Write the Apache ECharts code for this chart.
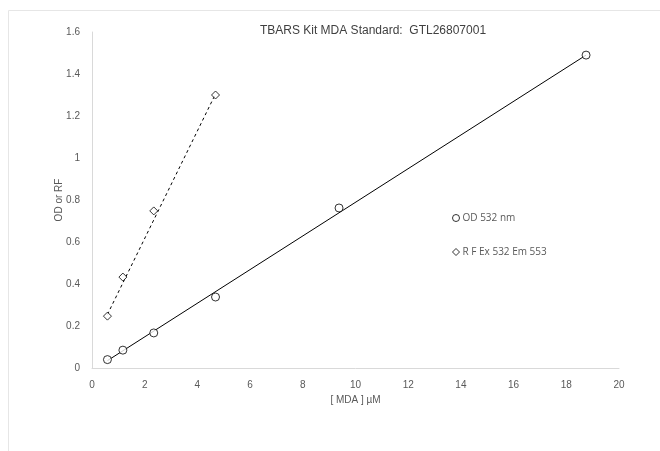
<!DOCTYPE html>
<html><head><meta charset="utf-8">
<script src="https://cdn.jsdelivr.net/npm/echarts@6/dist/echarts.min.js"></script>
<style>html,body{margin:0;padding:0;background:#fff}#c{width:660px;height:451px}</style>
</head><body><div id="c"></div>
<script>
const concMDA = [0.586, 1.172, 2.344, 4.6875, 9.375, 18.75];
const odValues = [0.04, 0.085, 0.167, 0.338, 0.762, 1.49];
const rfConc = [0.586, 1.172, 2.344, 4.6875];
const rfValues = [0.247, 0.433, 0.748, 1.30];
const odTrend = [[0.586, 0.035], [18.75, 1.49]];
const rfTrend = [[0.586, 0.255], [4.6875, 1.305]];
const xTicks = [0, 2, 4, 6, 8, 10, 12, 14, 16, 18, 20];
const yTicks = [0, 0.2, 0.4, 0.6, 0.8, 1, 1.2, 1.4, 1.6];

const chart = echarts.init(document.getElementById('c'));
const font = '"Liberation Sans", Arial, sans-serif';
const zip = (xs, ys) => xs.map((x, i) => [x, ys[i]]);
chart.setOption({
  animation: false,
  backgroundColor: '#fff',
  graphic: [{type: 'rect', shape: {x: 8.5, y: 10.5, width: 700, height: 500}, style: {fill: 'none', stroke: '#e6e6e6', lineWidth: 1}, silent: true}],
  title: {text: 'TBARS Kit MDA Standard:  GTL26807001', left: 368, top: 20, textAlign: 'center',
    textStyle: {fontFamily: font, fontSize: 12, fontWeight: 'normal', color: '#404040'}},
  grid: {left: 92, right: 41, top: 32, bottom: 83},
  legend: {orient: 'vertical', left: 447, top: 208, itemGap: 24, itemWidth: 7, itemHeight: 7,
    itemStyle: {borderWidth: 1},
    textStyle: {fontFamily: '"Open Sans", sans-serif', fontSize: 10, color: '#595959', padding: [0,0,0,-2]},
    data: [{name: 'OD 532 nm', icon: 'circle'}, {name: 'R F Ex 532 Em 553', icon: 'diamond'}]},
  xAxis: {type: 'value', min: xTicks[0], max: xTicks[xTicks.length-1], interval: 2,
    name: '[ MDA ] µM', nameLocation: 'middle', nameGap: 27,
    nameTextStyle: {fontFamily: font, fontSize: 10, color: '#595959'},
    axisLine: {show: true, lineStyle: {color: '#d9d9d9', width: 1}}, axisTick: {show: false},
    splitLine: {show: false},
    axisLabel: {fontFamily: font, fontSize: 10, color: '#595959', margin: 12}},
  yAxis: {type: 'value', min: yTicks[0], max: yTicks[yTicks.length-1], interval: 0.2,
    name: 'OD or RF', nameLocation: 'middle', nameGap: 28, nameMoveOverlap: false,
    nameTextStyle: {fontFamily: font, fontSize: 10, color: '#595959'},
    axisLine: {show: true, lineStyle: {color: '#d9d9d9', width: 1}}, axisTick: {show: false},
    splitLine: {show: false},
    axisLabel: {fontFamily: font, fontSize: 10, color: '#595959', margin: 12}},
  series: [
    {name: 'OD trend', type: 'line', data: odTrend, symbol: 'none', silent: true,
      lineStyle: {color: '#000', width: 1, type: 'solid'}, z: 1},
    {name: 'RF trend', type: 'line', data: rfTrend, symbol: 'none', silent: true,
      lineStyle: {color: '#000', width: 1, type: [3, 3]}, z: 1},
    {name: 'OD 532 nm', type: 'scatter', data: zip(concMDA, odValues), symbol: 'circle', symbolSize: 8,
      itemStyle: {color: '#fff', borderColor: '#000', borderWidth: 1}, z: 3},
    {name: 'R F Ex 532 Em 553', type: 'scatter', data: zip(rfConc, rfValues), symbol: 'diamond', symbolSize: 8,
      itemStyle: {color: '#fff', borderColor: '#000', borderWidth: 1}, z: 3}
  ]
});
</script></body></html>
